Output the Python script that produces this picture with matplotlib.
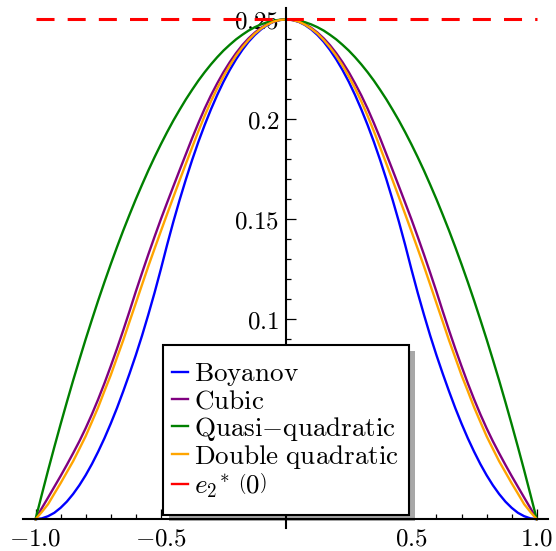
import numpy as np
import matplotlib
matplotlib.use("Agg")
import matplotlib.pyplot as plt
from matplotlib.patches import Rectangle
from matplotlib.ticker import FixedLocator, MultipleLocator, FuncFormatter

plt.rcParams["mathtext.fontset"] = "cm"

# error kernels are even in x, so only the half on [0, 1] is tabulated
x_half = [0.0, 0.025, 0.05, 0.075, 0.1, 0.125, 0.15, 0.175, 0.2, 0.225,
          0.25, 0.275, 0.3, 0.325, 0.35, 0.375, 0.4, 0.425, 0.45, 0.475,
          0.5, 0.525, 0.55, 0.575, 0.6, 0.625, 0.65, 0.675, 0.7, 0.725,
          0.75, 0.775, 0.8, 0.825, 0.85, 0.875, 0.9, 0.925, 0.95, 0.975, 1.0]
boyanov = [0.2500, 0.2497, 0.2488, 0.2472, 0.2450, 0.2422, 0.2388, 0.2347, 0.2300, 0.2247,
           0.2188, 0.2122, 0.2050, 0.1972, 0.1888, 0.1797, 0.1700, 0.1597, 0.1488, 0.1372,
           0.1250, 0.1133, 0.1023, 0.0918, 0.0820, 0.0728, 0.0640, 0.0556, 0.0478, 0.0405,
           0.0338, 0.0276, 0.0220, 0.0170, 0.0126, 0.0088, 0.0057, 0.0032, 0.0015, 0.0004, 0.0]
cubic = [0.2500, 0.2497, 0.2489, 0.2476, 0.2458, 0.2434, 0.2405, 0.2371, 0.2331, 0.2286,
         0.2236, 0.2180, 0.2120, 0.2054, 0.1982, 0.1906, 0.1826, 0.1746, 0.1665, 0.1583,
         0.1500, 0.1413, 0.1324, 0.1232, 0.1138, 0.1040, 0.0945, 0.0853, 0.0765, 0.0680,
         0.0600, 0.0525, 0.0455, 0.0390, 0.0330, 0.0272, 0.0216, 0.0162, 0.0108, 0.0055, 0.0]
quasi_quadratic = [0.2500, 0.2498, 0.2494, 0.2486, 0.2475, 0.2461, 0.2444, 0.2423, 0.2400, 0.2373,
                   0.2344, 0.2311, 0.2275, 0.2236, 0.2194, 0.2148, 0.2100, 0.2048, 0.1994, 0.1936,
                   0.1875, 0.1811, 0.1744, 0.1673, 0.1600, 0.1523, 0.1444, 0.1361, 0.1275, 0.1186,
                   0.1094, 0.0998, 0.0900, 0.0798, 0.0694, 0.0586, 0.0475, 0.0361, 0.0244, 0.0123, 0.0]
double_quadratic = [0.2500, 0.2497, 0.2489, 0.2474, 0.2454, 0.2429, 0.2397, 0.2360, 0.2318, 0.2269,
                    0.2215, 0.2155, 0.2090, 0.2018, 0.1941, 0.1860, 0.1778, 0.1695, 0.1611, 0.1526,
                    0.1440, 0.1353, 0.1265, 0.1173, 0.1080, 0.0988, 0.0895, 0.0808, 0.0720, 0.0641,
                    0.0560, 0.0487, 0.0415, 0.0352, 0.0290, 0.0235, 0.0180, 0.0128, 0.0075, 0.0036, 0.0]
e2_star_0 = 0.25

labels = [r"$\mathrm{Boyanov}$", r"$\mathrm{Cubic}$", r"$\mathrm{Quasi}{-}\mathrm{quadratic}$",
          r"$\mathrm{Double\ quadratic}$", r"${e_2}^{*}\ \left(0\right)$"]
colors = ["blue", "purple", "green", "orange", "red"]


def mirror(vals, odd=False):
    v = np.asarray(vals, dtype=float)
    left = -v[:0:-1] if odd else v[:0:-1]
    return np.concatenate([left, v])


x = mirror(x_half, odd=True)

W, H = 556, 551
fig = plt.figure(figsize=(W / 100, H / 100), dpi=100)
ax = fig.add_axes([23 / W, 23 / H, 525 / W, 520 / H])

for series, lab, col in zip([boyanov, cubic, quasi_quadratic, double_quadratic], labels[:4], colors[:4]):
    ax.plot(x, mirror(series), color=col, lw=1.7, label=lab)
ax.plot([x[0], x[-1]], [e2_star_0, e2_star_0], color=colors[4], lw=2.2,
        linestyle=(0, (5.9, 4.3)), label=labels[4])

ax.set_xlim(-1.05, 1.045)
ax.set_ylim(-0.0044, 0.2557)

for side in ["top", "right"]:
    ax.spines[side].set_visible(False)
ax.spines["left"].set_position(("data", 0))
ax.spines["bottom"].set_position(("data", 0))
for side in ["left", "bottom"]:
    ax.spines[side].set_linewidth(1.5)

ax.xaxis.set_major_locator(FixedLocator([-1.0, -0.5, 0.5, 1.0]))
ax.xaxis.set_minor_locator(MultipleLocator(0.1))
ax.yaxis.set_major_locator(FixedLocator([0.05, 0.1, 0.15, 0.2, 0.25]))
ax.yaxis.set_minor_locator(MultipleLocator(0.01))
ax.xaxis.set_major_formatter(FuncFormatter(lambda v, p: f"${v:.1f}$"))
# the 0.05 label sits behind the legend box
ax.yaxis.set_major_formatter(FuncFormatter(lambda v, p: "" if v < 0.075 else f"${v:g}$"))
ax.tick_params(which="both", direction="in", width=0.9, labelsize=18)
ax.tick_params(which="major", length=7, pad=5)
ax.tick_params(which="minor", length=3.5)

# legend box with a drop shadow, drawn by hand so the row pitch stays tight
box_x0, box_y0 = (163 - 23) / 525, (528 - 515) / 520
box_w, box_h = 246 / 525, 170 / 520
shadow = Rectangle((box_x0 + 6 / 525, box_y0 - 6 / 520), box_w, box_h, transform=ax.transAxes,
                   facecolor="#a8a8a8", edgecolor="none", zorder=2.4, clip_on=False)
frame = Rectangle((box_x0, box_y0), box_w, box_h, transform=ax.transAxes,
                  facecolor="white", edgecolor="black", lw=1.5, zorder=4.8, clip_on=False)
ax.add_patch(shadow)
ax.add_patch(frame)

leg = ax.legend(loc="upper left", bbox_to_anchor=((172 - 23) / 525, (528 - 361) / 520),
                borderaxespad=0, borderpad=0, frameon=False,
                fontsize=19.5, handlelength=0.6, handletextpad=0.2, labelspacing=0.01)
leg.get_lines()[4].set_linestyle("-")
leg.get_lines()[4].set_linewidth(1.7)

fig.savefig("out.png", dpi=100)
